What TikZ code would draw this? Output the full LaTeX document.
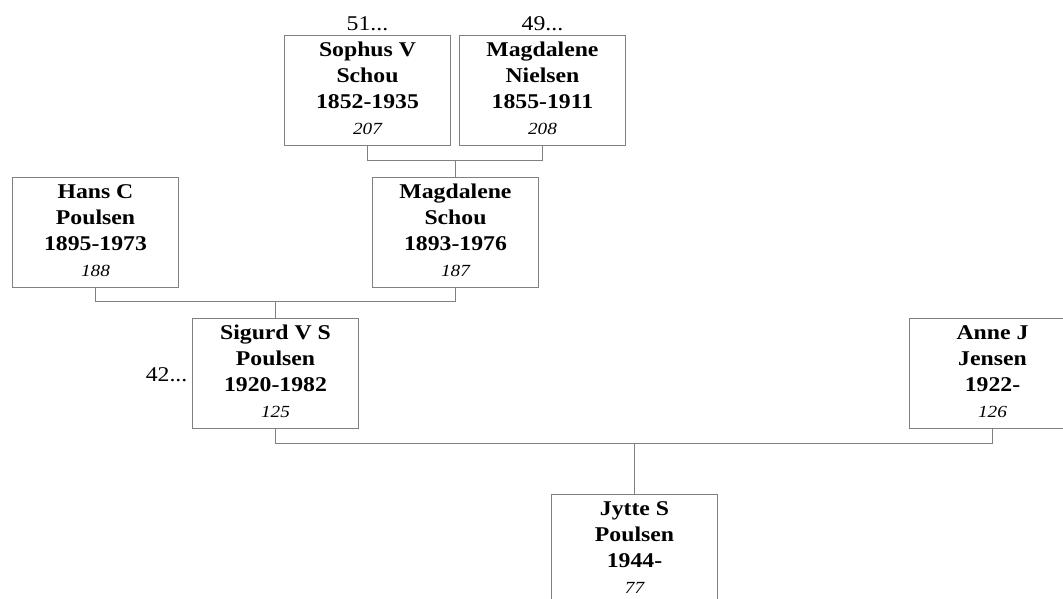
\documentclass[tikz,border=0pt]{standalone}
\usepackage{fontspec}
\setmainfont{Liberation Serif}[FakeStretch=1.13]
\begin{document}
\begin{tikzpicture}[x=1pt,y=-1pt,
  pbox/.style={draw=linegray, line width=1pt, minimum width=166pt, minimum height=110pt, inner sep=0pt},
  nm/.style={font=\fontsize{21}{26}\selectfont\bfseries, inner sep=0pt, anchor=base},
  idn/.style={font=\fontsize{17}{20}\selectfont\itshape, inner sep=0pt, anchor=base},
  ref/.style={font=\fontsize{21}{26}\selectfont, inner sep=0pt, anchor=base},
  conn/.style={draw=linegray, line width=1pt}]
\definecolor{linegray}{RGB}{128,128,128}
\useasboundingbox (-0.5,-0.5) rectangle (1062.5,597.5);
\clip (-0.5,-0.5) rectangle (1062.5,597.5);
\newcommand\person[7]{%
  \node[pbox] (#1) at (#2,#3+55) {};
  \node[nm] (#1-a) at (#2,#3+21) {#4};
  \node[nm] (#1-b) at (#2,#3+47) {#5};
  \node[nm] (#1-c) at (#2,#3+73) {#6};
  \node[idn] (#1-d) at (#2,#3+99) {#7};
}
\person{sophus}{367}{35}{Sophus V}{Schou}{1852-1935}{207}
\person{nielsen}{542}{35}{Magdalene}{Nielsen}{1855-1911}{208}
\person{schou}{455}{177}{Magdalene}{Schou}{1893-1976}{187}
\person{hans}{95}{177}{Hans C}{Poulsen}{1895-1973}{188}
\person{sigurd}{275}{318}{Sigurd V S}{Poulsen}{1920-1982}{125}
\person{anne}{992}{318}{Anne J}{Jensen}{1922-}{126}
\person{jytte}{634}{494}{Jytte S}{Poulsen}{1944-}{77}
\node[ref] (r51) at (367,30) {51...};
\node[ref] (r49) at (542,30) {49...};
\node[ref, anchor=base east] (r42) at (187,381) {42...};
\coordinate (c1) at (455,160);
\coordinate (c2) at (275,301);
\coordinate (c3) at (634,443);
\draw[conn] (sophus.south) |- (c1) -| (nielsen.south);
\draw[conn] (c1) -- (schou.north);
\draw[conn] (hans.south) |- (c2) -| (schou.south);
\draw[conn] (c2) -- (sigurd.north);
\draw[conn] (sigurd.south) |- (c3) -| (anne.south);
\draw[conn] (c3) -- (jytte.north);
\end{tikzpicture}
\end{document}
